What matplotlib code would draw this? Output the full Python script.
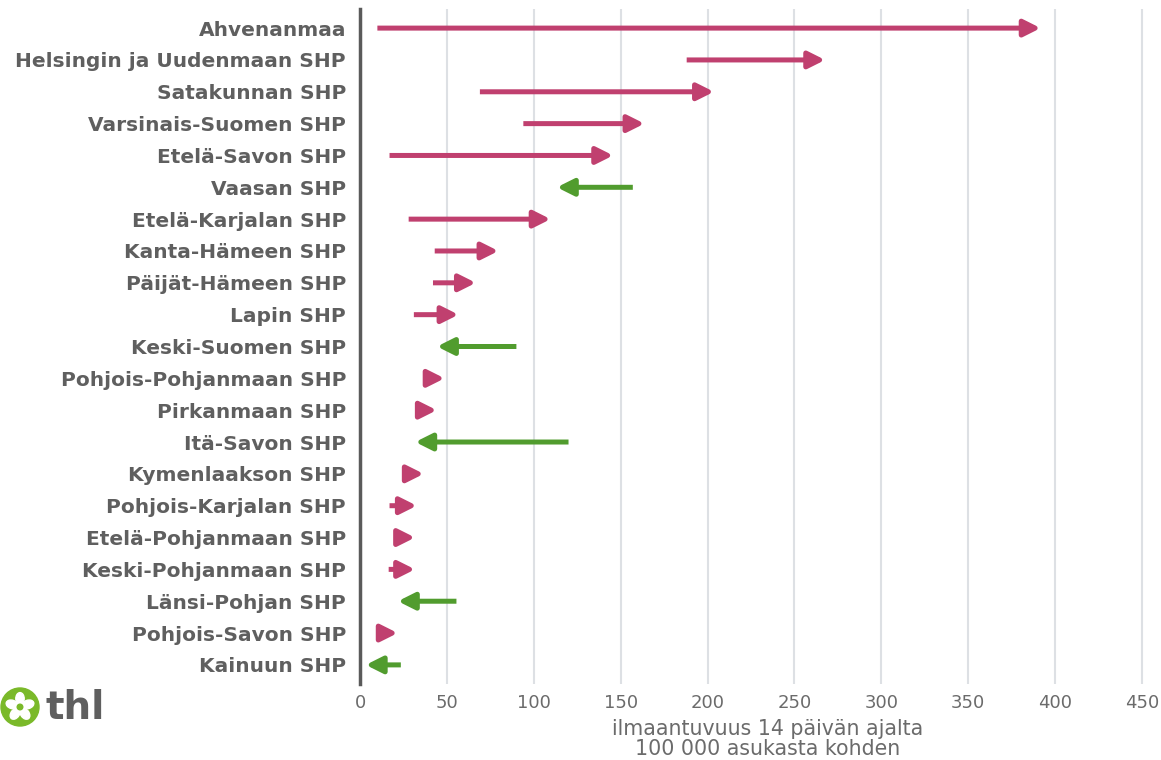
import math
import matplotlib
matplotlib.use("Agg")
import matplotlib.pyplot as plt
import matplotlib.transforms as mtransforms
from matplotlib.patches import Circle, Ellipse

plt.rcParams['font.family'] = ['DejaVu Sans']

# sairaanhoitopiirit, ylhäältä alas
alueet = ["Ahvenanmaa", "Helsingin ja Uudenmaan SHP", "Satakunnan SHP",
          "Varsinais-Suomen SHP", "Etelä-Savon SHP", "Vaasan SHP",
          "Etelä-Karjalan SHP", "Kanta-Hämeen SHP", "Päijät-Hämeen SHP",
          "Lapin SHP", "Keski-Suomen SHP", "Pohjois-Pohjanmaan SHP",
          "Pirkanmaan SHP", "Itä-Savon SHP", "Kymenlaakson SHP",
          "Pohjois-Karjalan SHP", "Etelä-Pohjanmaan SHP", "Keski-Pohjanmaan SHP",
          "Länsi-Pohjan SHP", "Pohjois-Savon SHP", "Kainuun SHP"]

# edellinen jakso -> nykyinen jakso
alku = [10, 188, 69, 94, 17, 157, 28, 43, 42, 31, 90, 37, 34, 120, 26,
        17, 22, 16.5, 55.5, 12, 23.5]
loppu = [390, 266, 202, 162, 144, 115, 108, 78, 65, 55, 46, 47, 42.5, 33.5, 35,
         31, 30, 30, 23.5, 20, 5]

xtiks = [0, 50, 100, 150, 200, 250, 300, 350, 400, 450]

nousu = "#c0406f"
lasku = "#519c2e"
harmaa = "#5f5f5f"

fig = plt.figure(figsize=(11.61, 7.60), dpi=100)
ax = fig.add_axes([360 / 1161, 1 - 684 / 760, (1155 - 360) / 1161, (684 - 9) / 760])

# pyöristetty kärki jää vähän lyhyeksi, siirretään pari pikseliä eteenpäin
for i, (a, l) in enumerate(zip(alku, loppu)):
    c = nousu if l > a else lasku
    suunta = 1 if l > a else -1
    tr = mtransforms.offset_copy(ax.transData, fig, x=3 * suunta, y=0, units="dots")
    ax.annotate("", xy=(l, i), xytext=(a, i), xycoords=tr, textcoords="data",
                arrowprops=dict(arrowstyle="-|>,head_length=0.5,head_width=0.25",
                                mutation_scale=20, lw=3.6, color=c,
                                joinstyle="round", capstyle="butt",
                                shrinkA=0, shrinkB=0))

ax.set_xlim(0, 457.5)
ax.set_ylim(len(alueet) - 0.4, -0.6)
ax.set_yticks(range(len(alueet)))
ax.set_yticklabels(alueet, fontsize=14.5, fontweight="bold", color=harmaa)
ax.set_xticks(xtiks)
ax.set_xticklabels([str(v) for v in xtiks], fontsize=13, color="#6b6b6b")
ax.tick_params(length=0)
ax.tick_params(axis="y", pad=10)
ax.tick_params(axis="x", pad=7)

ax.grid(axis="x", color="#dde0e4", lw=1.5)
ax.set_axisbelow(True)
for s in ["top", "right", "bottom"]:
    ax.spines[s].set_visible(False)
ax.spines["left"].set_color("#5a5a5a")
ax.spines["left"].set_linewidth(2.5)

ax.set_xlabel("ilmaantuvuus 14 päivän ajalta\n100 000 asukasta kohden",
              fontsize=14.8, color="#6b6b6b", labelpad=5, linespacing=1.0)
ax.xaxis.label.set_x(0.513)

# thl-logo
lax = fig.add_axes([0, 1 - 727 / 760, 40 / 1161, 40 / 760])
lax.set_xlim(-1, 1)
lax.set_ylim(-1, 1)
lax.set_aspect("equal")
lax.axis("off")
lax.add_patch(Circle((0, 0), 0.95, color="#7ab929"))
for k in range(5):
    ang = 90 + k * 72
    cx = 0.42 * math.cos(math.radians(ang))
    cy = 0.42 * math.sin(math.radians(ang))
    lax.add_patch(Ellipse((cx, cy), 0.42, 0.6, angle=ang - 90, color="white"))
lax.add_patch(Circle((0, 0), 0.14, color="#7ab929"))
fig.text(46 / 1161, 1 - 708 / 760, "thl", fontsize=28, fontweight="bold",
         color="#5f5f5f", va="center", ha="left")

fig.savefig("out.png", dpi=100)
